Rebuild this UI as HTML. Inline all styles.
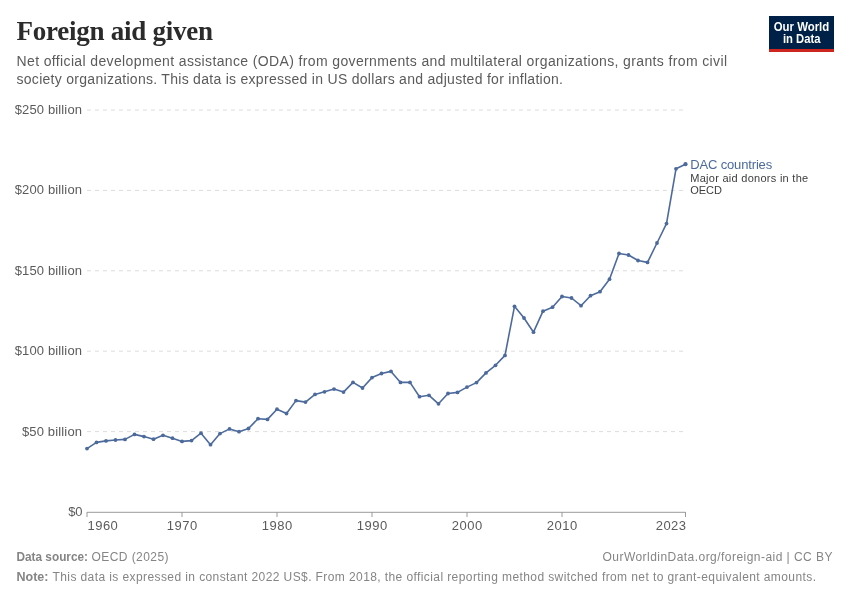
<!DOCTYPE html>
<html><head><meta charset="utf-8">
<style>
html,body{margin:0;padding:0;background:#fff;width:850px;height:600px;overflow:hidden;}
body{position:relative;font-family:"Liberation Sans",sans-serif;}
svg{position:absolute;left:0;top:0;will-change:transform;}
text{font-family:"Liberation Sans",sans-serif;}
</style></head><body>
<svg width="850" height="600" viewBox="0 0 850 600">
<text x="16.5" y="40.3" font-family="Liberation Serif" font-weight="bold" font-size="27" fill="#2b2b2b" textLength="196.5" lengthAdjust="spacing" style="font-family:'Liberation Serif',serif">Foreign aid given</text>
<g font-size="14" fill="#5b5b5b">
<text x="16.5" y="66.2" textLength="710.5" lengthAdjust="spacing">Net official development assistance (ODA) from governments and multilateral organizations, grants from civil</text>
<text x="16.5" y="84.3" textLength="546.5" lengthAdjust="spacing">society organizations. This data is expressed in US dollars and adjusted for inflation.</text>
</g>
<rect x="769" y="16" width="65" height="36" fill="#002147"/>
<rect x="769" y="49" width="65" height="3" fill="#ce261e"/>
<g fill="#fff" font-weight="bold" font-size="12" text-anchor="middle">
<text x="801.5" y="30.8" textLength="55.5" lengthAdjust="spacingAndGlyphs">Our World</text>
<text x="801.7" y="42.6" textLength="37.5" lengthAdjust="spacingAndGlyphs">in Data</text>
</g>
<g stroke="#dcdcdc" stroke-width="1" stroke-dasharray="4,4"><line x1="87" y1="431.6" x2="685.5" y2="431.6"/><line x1="87" y1="351.2" x2="685.5" y2="351.2"/><line x1="87" y1="270.8" x2="685.5" y2="270.8"/><line x1="87" y1="190.4" x2="685.5" y2="190.4"/><line x1="87" y1="110.0" x2="685.5" y2="110.0"/></g>
<g font-size="13" fill="#5b5b5b" text-anchor="end"><text x="82" y="435.6" textLength="60.1" lengthAdjust="spacing">$50 billion</text><text x="82" y="355.2" textLength="67.3" lengthAdjust="spacing">$100 billion</text><text x="82" y="274.8" textLength="67.3" lengthAdjust="spacing">$150 billion</text><text x="82" y="194.4" textLength="67.3" lengthAdjust="spacing">$200 billion</text><text x="82" y="114.0" textLength="67.3" lengthAdjust="spacing">$250 billion</text><text x="82.6" y="516.2">$0</text></g>
<line x1="87" y1="512.3" x2="685.5" y2="512.3" stroke="#9a9a9a" stroke-width="1"/>
<g stroke="#9a9a9a" stroke-width="1"><line x1="87.0" y1="512" x2="87.0" y2="517"/><line x1="182.0" y1="512" x2="182.0" y2="517"/><line x1="277.0" y1="512" x2="277.0" y2="517"/><line x1="372.0" y1="512" x2="372.0" y2="517"/><line x1="467.0" y1="512" x2="467.0" y2="517"/><line x1="562.0" y1="512" x2="562.0" y2="517"/><line x1="685.5" y1="512" x2="685.5" y2="517"/></g>
<g font-size="13" fill="#5b5b5b"><text x="87.5" y="530.2" text-anchor="start" textLength="30.3" lengthAdjust="spacing">1960</text><text x="182.0" y="530.2" text-anchor="middle" textLength="30.3" lengthAdjust="spacing">1970</text><text x="277.0" y="530.2" text-anchor="middle" textLength="30.3" lengthAdjust="spacing">1980</text><text x="372.0" y="530.2" text-anchor="middle" textLength="30.3" lengthAdjust="spacing">1990</text><text x="467.0" y="530.2" text-anchor="middle" textLength="30.3" lengthAdjust="spacing">2000</text><text x="562.0" y="530.2" text-anchor="middle" textLength="30.3" lengthAdjust="spacing">2010</text><text x="686.0" y="530.2" text-anchor="end" textLength="30.3" lengthAdjust="spacing">2023</text></g>
<path d="M87.0,448.6 L96.5,442.4 L106.0,440.9 L115.5,440.0 L125.0,439.4 L134.5,434.4 L144.0,436.6 L153.5,439.2 L163.0,435.3 L172.5,438.2 L182.0,441.4 L191.5,440.6 L201.0,433.2 L210.5,444.7 L220.0,433.6 L229.5,428.9 L239.0,431.7 L248.5,428.5 L258.0,418.7 L267.5,419.4 L277.0,409.2 L286.5,413.5 L296.0,400.6 L305.5,402.1 L315.0,394.4 L324.5,391.8 L334.0,389.1 L343.5,392.1 L353.0,382.4 L362.5,388.0 L372.0,377.6 L381.5,373.5 L391.0,371.4 L400.5,382.4 L410.0,382.4 L419.5,396.7 L429.0,395.3 L438.5,403.8 L448.0,393.5 L457.5,392.4 L467.0,387.1 L476.5,382.6 L486.0,372.9 L495.5,365.3 L505.0,355.4 L514.5,306.3 L524.0,318.0 L533.5,332.2 L543.0,311.2 L552.5,307.2 L562.0,296.5 L571.5,298.0 L581.0,305.7 L590.5,295.7 L600.0,291.7 L609.5,279.2 L619.0,253.5 L628.5,255.0 L638.0,260.5 L647.5,262.4 L657.0,243.0 L666.5,223.6 L676.0,168.8 L685.5,164.2" fill="none" stroke="#4c6a9c" stroke-width="1.6" stroke-linejoin="round"/>
<g fill="#4c6a9c"><circle cx="87.0" cy="448.6" r="1.9"/><circle cx="96.5" cy="442.4" r="1.9"/><circle cx="106.0" cy="440.9" r="1.9"/><circle cx="115.5" cy="440.0" r="1.9"/><circle cx="125.0" cy="439.4" r="1.9"/><circle cx="134.5" cy="434.4" r="1.9"/><circle cx="144.0" cy="436.6" r="1.9"/><circle cx="153.5" cy="439.2" r="1.9"/><circle cx="163.0" cy="435.3" r="1.9"/><circle cx="172.5" cy="438.2" r="1.9"/><circle cx="182.0" cy="441.4" r="1.9"/><circle cx="191.5" cy="440.6" r="1.9"/><circle cx="201.0" cy="433.2" r="1.9"/><circle cx="210.5" cy="444.7" r="1.9"/><circle cx="220.0" cy="433.6" r="1.9"/><circle cx="229.5" cy="428.9" r="1.9"/><circle cx="239.0" cy="431.7" r="1.9"/><circle cx="248.5" cy="428.5" r="1.9"/><circle cx="258.0" cy="418.7" r="1.9"/><circle cx="267.5" cy="419.4" r="1.9"/><circle cx="277.0" cy="409.2" r="1.9"/><circle cx="286.5" cy="413.5" r="1.9"/><circle cx="296.0" cy="400.6" r="1.9"/><circle cx="305.5" cy="402.1" r="1.9"/><circle cx="315.0" cy="394.4" r="1.9"/><circle cx="324.5" cy="391.8" r="1.9"/><circle cx="334.0" cy="389.1" r="1.9"/><circle cx="343.5" cy="392.1" r="1.9"/><circle cx="353.0" cy="382.4" r="1.9"/><circle cx="362.5" cy="388.0" r="1.9"/><circle cx="372.0" cy="377.6" r="1.9"/><circle cx="381.5" cy="373.5" r="1.9"/><circle cx="391.0" cy="371.4" r="1.9"/><circle cx="400.5" cy="382.4" r="1.9"/><circle cx="410.0" cy="382.4" r="1.9"/><circle cx="419.5" cy="396.7" r="1.9"/><circle cx="429.0" cy="395.3" r="1.9"/><circle cx="438.5" cy="403.8" r="1.9"/><circle cx="448.0" cy="393.5" r="1.9"/><circle cx="457.5" cy="392.4" r="1.9"/><circle cx="467.0" cy="387.1" r="1.9"/><circle cx="476.5" cy="382.6" r="1.9"/><circle cx="486.0" cy="372.9" r="1.9"/><circle cx="495.5" cy="365.3" r="1.9"/><circle cx="505.0" cy="355.4" r="1.9"/><circle cx="514.5" cy="306.3" r="1.9"/><circle cx="524.0" cy="318.0" r="1.9"/><circle cx="533.5" cy="332.2" r="1.9"/><circle cx="543.0" cy="311.2" r="1.9"/><circle cx="552.5" cy="307.2" r="1.9"/><circle cx="562.0" cy="296.5" r="1.9"/><circle cx="571.5" cy="298.0" r="1.9"/><circle cx="581.0" cy="305.7" r="1.9"/><circle cx="590.5" cy="295.7" r="1.9"/><circle cx="600.0" cy="291.7" r="1.9"/><circle cx="609.5" cy="279.2" r="1.9"/><circle cx="619.0" cy="253.5" r="1.9"/><circle cx="628.5" cy="255.0" r="1.9"/><circle cx="638.0" cy="260.5" r="1.9"/><circle cx="647.5" cy="262.4" r="1.9"/><circle cx="657.0" cy="243.0" r="1.9"/><circle cx="666.5" cy="223.6" r="1.9"/><circle cx="676.0" cy="168.8" r="1.9"/><circle cx="685.5" cy="164.2" r="2.1"/></g>
<text x="690.2" y="168.5" font-size="13" fill="#4c6a9c" textLength="82" lengthAdjust="spacing">DAC countries</text>
<text x="690.2" y="182.1" font-size="11" fill="#3d3d3d" textLength="118" lengthAdjust="spacing">Major aid donors in the</text>
<text x="690.2" y="193.7" font-size="11" fill="#3d3d3d">OECD</text>
<g font-size="12" fill="#858585">
<text x="16.5" y="561" font-weight="bold" textLength="71.5" lengthAdjust="spacingAndGlyphs">Data source:</text><text x="91.5" y="561" textLength="77" lengthAdjust="spacing">OECD (2025)</text>
<text x="602.5" y="561" textLength="230" lengthAdjust="spacing">OurWorldinData.org/foreign-aid | CC BY</text>
<text x="16.5" y="580.6" font-weight="bold" textLength="32" lengthAdjust="spacingAndGlyphs">Note:</text><text x="52.5" y="580.6" textLength="763.5" lengthAdjust="spacing">This data is expressed in constant 2022 US$. From 2018, the official reporting method switched from net to grant-equivalent amounts.</text>
</g>
</svg>
</body></html>
